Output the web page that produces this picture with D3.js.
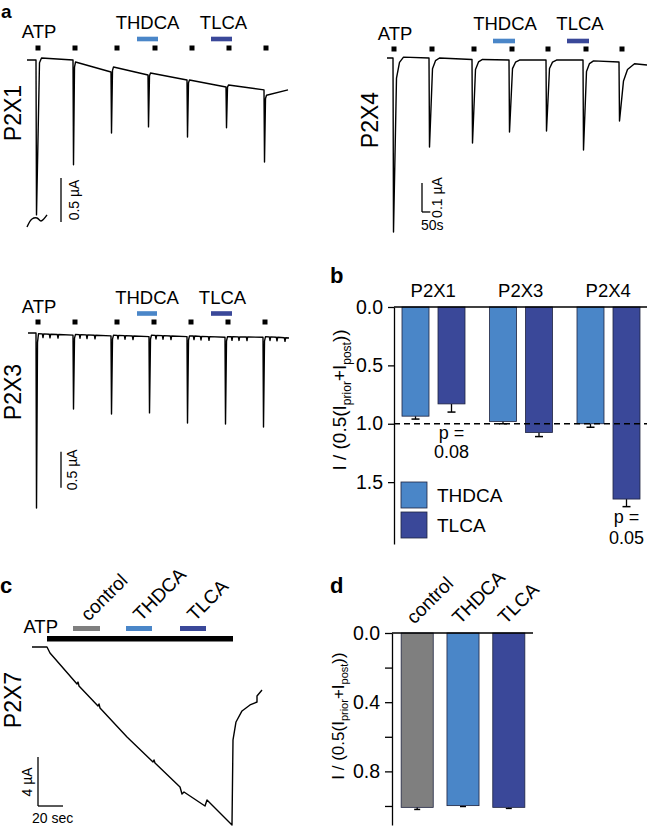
<!DOCTYPE html>
<html><head><meta charset="utf-8">
<script src="https://cdn.jsdelivr.net/npm/d3@7"></script>
<style>body{margin:0;background:#fff} svg{display:block}</style>
</head><body>
<svg id="fig" width="647" height="827"></svg>
<script>
// ================= DATA =================
// colours
const colControl = "#7f7f7f", colTHDCA = "#4a86c8", colTLCA = "#3a4899";

// ---- panel a : P2X1 (time s, current µA) ----
const p2x1PulseT = [54, 276, 504, 726, 960, 1194, 1422];
const p2x1Pre    = [0, 0, -0.136, -0.17, -0.227, -0.307, -0.34];
const p2x1Peak   = [-1.76, -1.19, -0.83, -0.76, -0.875, -0.77, -1.16];
const p2x1Post   = [0.023, -0.023, -0.08, -0.148, -0.227, -0.284, -0.40];
const p2x1End    = [1566, -0.34];
const p2x1Break  = [[0, -1.898], [30, -1.807], [60, -1.795], [84, -1.83], [120, -1.761]];
const p2x1ATP    = [66, 288, 540, 768, 990, 1212, 1434];
const p2x1THDCA  = [660, 786];
const p2x1TLCA   = [1104, 1230];

// ---- panel a : P2X4 ----
const p2x4PulseT = [36, 252, 510, 732, 954, 1176, 1392];
const p2x4Pre    = [0, 0, -0.005, -0.007, -0.007, -0.007, -0.014];
const p2x4Peak   = [-0.60, -0.307, -0.293, -0.255, -0.252, -0.317, -0.217];
const p2x4Post   = [0.003, 0, -0.005, -0.007, -0.007, -0.01, -0.02];
const p2x4End    = [1560, -0.024];
const p2x4ATP    = [42, 270, 522, 750, 966, 1194, 1410];
const p2x4THDCA  = [636, 768];
const p2x4TLCA   = [1080, 1212];

// ---- panel a : P2X3 ----
const p2x3PulseT = [48, 270, 498, 726, 954, 1182, 1410];
const p2x3Pre    = [0, -0.03, -0.04, -0.05, -0.05, -0.06, -0.06];
const p2x3Peak   = [-2.43, -1.056, -1.125, -1.11, -1.25, -1.264, -1.306];
const p2x3Post   = [-0.01, -0.02, -0.03, -0.03, -0.04, -0.05, -0.05];
const p2x3End    = [1566, -0.07];
const p2x3Blips  = [42, 84, 132];
const p2x3ATP    = [60, 282, 534, 756, 978, 1200, 1422];
const p2x3THDCA  = [654, 774];
const p2x3TLCA   = [1098, 1224];

// ---- panel b ----
const bGroups  = ["P2X1", "P2X3", "P2X4"];
const bSeries  = ["THDCA", "TLCA"];
const bTHDCA   = [0.935, 0.98, 1.0];
const bTHDCAerr= [0.025, 0.02, 0.03];
const bTLCA    = [0.83, 1.075, 1.645];
const bTLCAerr = [0.07, 0.035, 0.065];
const bTicks   = [0, 0.5, 1.0, 1.5];

// ---- panel c : P2X7 ----
const p2x7Trace = [[0,0],[12,0],[14.4,-0.49],[36,-3.02],[36.8,-2.86],[37.6,-3.18],[52.8,-4.82],
  [53.6,-4.65],[54.4,-4.98],[76,-7.35],[96.8,-9.39],[97.6,-9.22],[98.4,-9.47],[118.4,-11.43],
  [120,-12.0],[121.6,-11.84],[138.4,-12.98],[140,-12.49],[160,-14.53],[160.8,-7.59],[163.2,-6.12],
  [168,-5.22],[174.4,-4.73],[180,-4.49],[180,-4.0],[184,-3.51]];
const p2x7ATP     = [12, 160.8];
const p2x7Control = [32.8, 54.4];
const p2x7THDCA   = [75.2, 96];
const p2x7TLCA    = [118.4, 139.2];

// ---- panel d ----
const dCats  = ["control", "THDCA", "TLCA"];
const dMean  = [1.008, 0.998, 1.008];
const dErr   = [0.012, 0.005, 0.006];
const dTicks = [0, 0.2, 0.4, 0.6, 0.8, 1.0];

// ================= DRAWING =================
const F = "'Liberation Sans', Arial, Helvetica, sans-serif";
const svg = d3.select("#fig");
const LBL = 18.5;   // protocol label size

function text(x, y, s, size, opts = {}) {
  const t = svg.append("text").attr("x", x).attr("y", y).text(s)
    .attr("font-family", F).attr("font-size", size).attr("fill", "#000")
    .attr("text-anchor", opts.anchor || "start");
  if (opts.bold) t.attr("font-weight", "bold");
  if (opts.rotate !== undefined) t.attr("transform", `rotate(${opts.rotate},${x},${y})`);
  return t;
}

function buildTrace(t0, i0, pulseT, pre, peak, post, recov, end, blipOff, blipDepth) {
  const pts = [[t0, i0]];
  pulseT.forEach((t, k) => {
    pts.push([t, pre[k]]);
    pts.push([t + 3, peak[k]]);
    const rp = Array.isArray(recov[0][0]) ? recov[k] : recov;
    rp.forEach(([dt, f]) => pts.push([t + 3 + dt, post[k] + (peak[k] - post[k]) * f]));
    if (blipOff) {
      const tA = t + 3 + rp[rp.length - 1][0];
      const tB = k + 1 < pulseT.length ? pulseT[k + 1] : end[0];
      const iB = k + 1 < pulseT.length ? pre[k + 1] : end[1];
      blipOff.forEach(o => {
        const tb = t + o, u = (tb - tA) / (tB - tA);
        const base = post[k] + (iB - post[k]) * u;
        pts.push([tb - 4, base], [tb, base - blipDepth], [tb + 4, base]);
      });
    }
  });
  pts.push(end);
  return pts;
}

function drawPath(pts, xs, ys, curve) {
  const l = d3.line().x(d => xs(d[0])).y(d => ys(d[1]));
  if (curve) l.curve(curve);
  svg.append("path").attr("d", l(pts)).attr("fill", "none")
    .attr("stroke", "#000").attr("stroke-width", 1.4).attr("stroke-linejoin", "round");
}

function protocol(xs, atp, thdca, tlca, sqY, barY) {
  atp.forEach(t => svg.append("rect").attr("x", xs(t) - 2.5).attr("y", sqY - 2.5)
    .attr("width", 5).attr("height", 5).attr("fill", "#000"));
  [[thdca, colTHDCA], [tlca, colTLCA]].forEach(([r, c]) =>
    svg.append("rect").attr("x", xs(r[0])).attr("y", barY - 2.3)
      .attr("width", xs(r[1]) - xs(r[0])).attr("height", 4.6).attr("fill", c));
}

function vline(x, y1, y2, w = 1.3) {
  svg.append("line").attr("x1", x).attr("x2", x).attr("y1", y1).attr("y2", y2)
    .attr("stroke", "#000").attr("stroke-width", w);
}
function hline(x1, x2, y, w = 1.3) {
  svg.append("line").attr("x1", x1).attr("x2", x2).attr("y1", y).attr("y2", y)
    .attr("stroke", "#000").attr("stroke-width", w);
}

// ---------- panel a : P2X1 ----------
text(1, 18, "a", 19, {bold: true});
{
  const xs = d3.scaleLinear().domain([0, 1566]).range([27, 288]);
  const ys = d3.scaleLinear().domain([0, -1]).range([60, 148]);
  protocol(xs, p2x1ATP, p2x1THDCA, p2x1TLCA, 48, 39);
  text(xs(p2x1ATP[0]) + 1, 38, "ATP", LBL, {anchor: "middle"});
  text(xs((p2x1THDCA[0] + p2x1THDCA[1]) / 2), 29, "THDCA", LBL, {anchor: "middle"});
  text(xs((p2x1TLCA[0] + p2x1TLCA[1]) / 2) + 2, 29, "TLCA", LBL, {anchor: "middle"});
  const rec = [[[18, 0.03], [30, 0]], [[6, 0.05], [12, 0]], [[6, 0.05], [12, 0]], [[6, 0.05], [12, 0]],
               [[6, 0.05], [12, 0]], [[6, 0.05], [12, 0]], [[6, 0.05], [12, 0]]];
  drawPath(buildTrace(0, 0, p2x1PulseT, p2x1Pre, p2x1Peak, p2x1Post, rec, p2x1End), xs, ys);
  drawPath(p2x1Break, xs, ys, d3.curveCatmullRom);
  vline(xs(204), ys(-1.34), ys(-1.84));
  text(xs(204) + 18, (ys(-1.34) + ys(-1.84)) / 2, "0.5 µA", 14, {anchor: "middle", rotate: -90});
  text(21, 113, "P2X1", 23, {anchor: "middle", rotate: -90});
}

// ---------- panel a : P2X4 ----------
{
  const xs = d3.scaleLinear().domain([0, 1560]).range([387, 647]);
  const ys = d3.scaleLinear().domain([0, -1]).range([58, 348]);
  protocol(xs, p2x4ATP, p2x4THDCA, p2x4TLCA, 49, 41);
  text(xs(p2x4ATP[0]) + 1, 40, "ATP", LBL, {anchor: "middle"});
  text(xs((p2x4THDCA[0] + p2x4THDCA[1]) / 2) + 1, 30, "THDCA", LBL, {anchor: "middle"});
  text(xs((p2x4TLCA[0] + p2x4TLCA[1]) / 2) + 2, 30, "TLCA", LBL, {anchor: "middle"});
  const r = [[18, 0.12], [36, 0.03], [60, 0]];
  const rec = [r, r, r, r, r, r, [[24, 0.3], [48, 0.1], [90, 0]]];
  drawPath(buildTrace(0, 0, p2x4PulseT, p2x4Pre, p2x4Peak, p2x4Post, rec, p2x4End), xs, ys);
  vline(xs(210), ys(-0.431), ys(-0.531));
  hline(xs(210), xs(260), ys(-0.531));
  text(xs(210) + 20, (ys(-0.431) + ys(-0.531)) / 2, "0.1 µA", 14, {anchor: "middle", rotate: -90});
  text(xs(210) - 1, 230, "50s", 14);
  text(378, 120, "P2X4", 23, {anchor: "middle", rotate: -90});
}

// ---------- panel a : P2X3 ----------
{
  const xs = d3.scaleLinear().domain([0, 1566]).range([28, 289]);
  const ys = d3.scaleLinear().domain([0, -1]).range([333, 405]);
  protocol(xs, p2x3ATP, p2x3THDCA, p2x3TLCA, 322, 313.5);
  text(xs(p2x3ATP[0]) + 1, 313, "ATP", LBL, {anchor: "middle"});
  text(xs((p2x3THDCA[0] + p2x3THDCA[1]) / 2), 304, "THDCA", LBL, {anchor: "middle"});
  text(xs((p2x3TLCA[0] + p2x3TLCA[1]) / 2) + 1, 304, "TLCA", LBL, {anchor: "middle"});
  drawPath(buildTrace(0, 0, p2x3PulseT, p2x3Pre, p2x3Peak, p2x3Post, [[6, 0.05], [12, 0]],
    p2x3End, p2x3Blips, 0.05), xs, ys);
  vline(xs(198), ys(-1.65), ys(-2.15));
  text(xs(198) + 16, (ys(-1.65) + ys(-2.15)) / 2, "0.5 µA", 14, {anchor: "middle", rotate: -90});
  text(21, 392, "P2X3", 23, {anchor: "middle", rotate: -90});
}

// ---------- panel b ----------
text(330, 283, "b", 22, {bold: true});
{
  const y = d3.scaleLinear().domain([0, 2.03]).range([307, 544]);
  const x0 = d3.scaleBand().domain(bGroups).range([389.5, 652]);
  const x1 = d3.scaleBand().domain(bSeries).range([12.5, 75.5]).paddingInner(0.25);
  const axisX = 394;
  const vals = {THDCA: bTHDCA, TLCA: bTLCA};
  const errs = {THDCA: bTHDCAerr, TLCA: bTLCAerr};
  const cols = {THDCA: colTHDCA, TLCA: colTLCA};
  bGroups.forEach((g, gi) => {
    text(x0(g) + x0.bandwidth() / 2, 297, g, 18.5, {anchor: "middle"});
    bSeries.forEach(s => {
      const bx = x0(g) + x1(s), v = vals[s][gi], e = errs[s][gi];
      const cx = bx + x1.bandwidth() / 2;
      vline(cx, y(v), y(v + e), 1.3);
      hline(cx - 4, cx + 4, y(v + e), 1.5);
      svg.append("rect").attr("x", bx).attr("y", y(0)).attr("width", x1.bandwidth())
        .attr("height", y(v) - y(0)).attr("fill", cols[s]).attr("stroke", "#1e2340").attr("stroke-width", 0.8);
    });
  });
  svg.append("line").attr("x1", axisX).attr("x2", 647).attr("y1", y(1)).attr("y2", y(1))
    .attr("stroke", "#000").attr("stroke-width", 1.3).attr("stroke-dasharray", "6,4");
  hline(axisX, 647, y(0), 1.3);
  const ax = svg.append("g").attr("transform", `translate(${axisX},0)`)
    .call(d3.axisLeft(y).tickValues(bTicks).tickFormat(d3.format(".1f")).tickSize(6).tickSizeOuter(0).tickPadding(5));
  ax.selectAll("path,line").attr("stroke", "#000").attr("stroke-width", 1.3);
  ax.selectAll("text").attr("font-family", F).attr("font-size", 19.5).attr("fill", "#000");
  // legend
  [["THDCA", colTHDCA, 482], ["TLCA", colTLCA, 512]].forEach(([s, c, yy]) => {
    svg.append("rect").attr("x", 401).attr("y", yy).attr("width", 26).attr("height", 26)
      .attr("fill", c).attr("stroke", "#1e2340").attr("stroke-width", 0.8);
    text(437, yy + 20, s, 19);
  });
  // p values
  const cx1 = x0("P2X1") + x1("TLCA") + x1.bandwidth() / 2;
  const cx4 = x0("P2X4") + x1("TLCA") + x1.bandwidth() / 2;
  text(cx1, y(1) + 15, "p =", 18, {anchor: "middle"});
  text(cx1, y(1) + 34, "0.08", 18, {anchor: "middle"});
  text(cx4, y(bTLCA[2] + bTLCAerr[2]) + 16, "p =", 18, {anchor: "middle"});
  text(cx4, y(bTLCA[2] + bTLCAerr[2]) + 37, "0.05", 18, {anchor: "middle"});
  // y title
  const tt = svg.append("text").attr("font-family", F).attr("font-size", 19).attr("text-anchor", "middle")
    .attr("transform", "translate(346,400) rotate(-90)");
  tt.append("tspan").text("I / (0.5(I");
  tt.append("tspan").attr("font-size", 12).attr("dy", 5).text("prior");
  tt.append("tspan").attr("dy", -5).text("+I");
  tt.append("tspan").attr("font-size", 12).attr("dy", 5).text("post");
  tt.append("tspan").attr("dy", -5).text("))");
}

// ---------- panel c ----------
text(0, 593, "c", 22, {bold: true});
{
  const xs = d3.scaleLinear().domain([0, 184]).range([32, 262]);
  const ys = d3.scaleLinear().domain([0, -1]).range([647, 659.25]);
  svg.append("rect").attr("x", xs(p2x7ATP[0])).attr("y", 636).attr("width", xs(p2x7ATP[1]) - xs(p2x7ATP[0]))
    .attr("height", 5.5).attr("fill", "#000");
  [[p2x7Control, colControl, "control"], [p2x7THDCA, colTHDCA, "THDCA"], [p2x7TLCA, colTLCA, "TLCA"]].forEach(([r, c, s]) => {
    svg.append("rect").attr("x", xs(r[0])).attr("y", 626).attr("width", xs(r[1]) - xs(r[0]))
      .attr("height", 5).attr("fill", c);
    text((xs(r[0]) + xs(r[1])) / 2 + 2, 622, s, 19, {rotate: -45});
  });
  text(58, 633, "ATP", LBL, {anchor: "end"});
  drawPath(p2x7Trace, xs, ys);
  vline(xs(4.8), ys(-8.98), ys(-12.98));
  hline(xs(4.8), xs(24.8), ys(-12.98));
  text(32, 782, "4 µA", 14, {anchor: "middle", rotate: -90});
  text(32, 823, "20 sec", 14);
  text(21, 700, "P2X7", 23, {anchor: "middle", rotate: -90});
}

// ---------- panel d ----------
text(330, 593, "d", 22, {bold: true});
{
  const y = d3.scaleLinear().domain([0, 1.11]).range([633, 825]);
  const x = d3.scaleBand().domain(dCats).range([392, 534]).paddingInner(0.3).paddingOuter(0.2);
  const cols = [colControl, colTHDCA, colTLCA];
  const axisX = 392;
  dCats.forEach((c, i) => {
    const cx = x(c) + x.bandwidth() / 2;
    vline(cx, y(dMean[i]), y(dMean[i] + dErr[i]), 1.3);
    hline(cx - 3, cx + 3, y(dMean[i] + dErr[i]), 1.5);
    svg.append("rect").attr("x", x(c)).attr("y", y(0)).attr("width", x.bandwidth())
      .attr("height", y(dMean[i]) - y(0)).attr("fill", cols[i]).attr("stroke", "#1e2340").attr("stroke-width", 0.8);
    text(cx - 3, 625, c, 19, {rotate: -45});
  });
  hline(axisX, 533, y(0), 1.3);
  const ax = svg.append("g").attr("transform", `translate(${axisX},0)`)
    .call(d3.axisLeft(y).tickValues(dTicks).tickFormat(d => (Math.round(d * 10) % 4 === 0 ? d3.format(".1f")(d) : ""))
      .tickSize(7).tickSizeOuter(0).tickPadding(5));
  ax.selectAll("path,line").attr("stroke", "#000").attr("stroke-width", 1.3);
  ax.selectAll("text").attr("font-family", F).attr("font-size", 19.5).attr("fill", "#000");
  const tt = svg.append("text").attr("font-family", F).attr("font-size", 17).attr("text-anchor", "middle")
    .attr("transform", "translate(344,716) rotate(-90)");
  tt.append("tspan").text("I / (0.5(I");
  tt.append("tspan").attr("font-size", 11).attr("dy", 4).text("prior");
  tt.append("tspan").attr("dy", -4).text("+I");
  tt.append("tspan").attr("font-size", 11).attr("dy", 4).text("post");
  tt.append("tspan").attr("dy", -4).text("))");
}
</script>
</body></html>
